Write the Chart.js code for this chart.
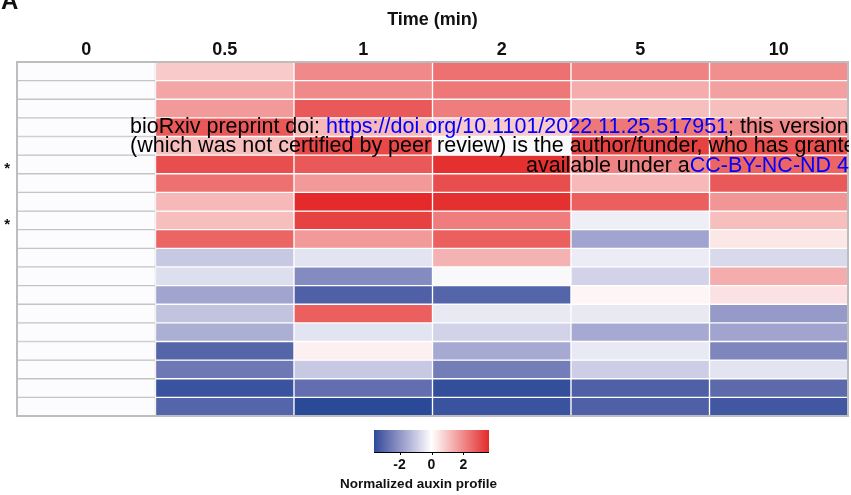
<!DOCTYPE html>
<html>
<head>
<meta charset="utf-8">
<script src="https://cdn.jsdelivr.net/npm/chart.js@4.4.0/dist/chart.umd.min.js"></script>
<style>
  body { margin: 0; background: #fff; }
  #wrap { width: 851px; height: 495px; }
</style>
</head>
<body>
<div id="wrap"><canvas id="myChart" width="851" height="495"></canvas></div>
<script>
// time points (columns)
var times = ['0', '0.5', '1', '2', '5', '10'];
// marks next to rows
var rowMarks = ['', '', '', '', '', '*', '', '', '*', '', '', '', '', '', '', '', '', '', ''];

// normalized auxin profile, one array per row (values at each time point)
var r01 = [-0.05, 0.9, 2.0, 2.4, 2.1, 1.9];
var r02 = [-0.05, 1.5, 2.0, 2.3, 1.4, 1.6];
var r03 = [-0.05, 1.7, 2.8, 2.2, 1.1, 1.1];
var r04 = [-0.05, 2.8, 1.2, 0.9, 2.3, 2.0];
var r05 = [-0.05, 1.1, 3.1, -0.1, 3.2, 3.0];
var r06 = [-0.05, 3.0, 2.8, 3.5, 2.1, 2.6];
var r07 = [-0.05, 2.4, 1.7, 3.0, 1.2, 2.8];
var r08 = [-0.05, 1.2, 3.6, 3.5, 2.7, 1.8];
var r09 = [-0.05, 1.1, 3.2, 2.2, -0.3, 1.1];
var r10 = [-0.05, 2.6, 1.7, 2.7, -1.7, 0.4];
var r11 = [-0.05, -1.0, -0.5, 1.3, -0.35, -0.7];
var r12 = [-0.05, -0.6, -2.2, -0.1, -0.8, 1.4];
var r13 = [-0.05, -1.7, -3.1, -3.0, 0.15, 0.5];
var r14 = [-0.05, -1.1, 2.7, -0.4, -0.4, -1.9];
var r15 = [-0.05, -1.5, -0.5, -0.8, -1.6, -1.7];
var r16 = [-0.05, -3.0, 0.25, -1.6, -0.4, -2.3];
var r17 = [-0.05, -2.6, -1.0, -2.5, -0.9, -0.5];
var r18 = [-0.05, -3.4, -2.8, -3.5, -3.1, -2.9];
var r19 = [-0.05, -3.0, -3.6, -3.4, -3.1, -3.3];
var rows = [r01, r02, r03, r04, r05, r06, r07, r08, r09, r10,
            r11, r12, r13, r14, r15, r16, r17, r18, r19];

// colour key
var legendTicks = [-2, 0, 2];
var legendMin = -3.6, legendMax = 3.6;

var FONT = "'Liberation Sans', Arial, sans-serif";
var blue = [42, 74, 152], white = [255, 255, 255], red = [228, 42, 42];

function toLab(c) {
  var v = c.map(function(x) { x = x / 255; return x > 0.04045 ? Math.pow((x + 0.055) / 1.055, 2.4) : x / 12.92; });
  var X = (v[0] * 0.4124 + v[1] * 0.3576 + v[2] * 0.1805) / 0.95047;
  var Y = v[0] * 0.2126 + v[1] * 0.7152 + v[2] * 0.0722;
  var Z = (v[0] * 0.0193 + v[1] * 0.1192 + v[2] * 0.9505) / 1.08883;
  var f = function(t) { return t > 0.008856 ? Math.cbrt(t) : 7.787 * t + 16 / 116; };
  X = f(X); Y = f(Y); Z = f(Z);
  return [116 * Y - 16, 500 * (X - Y), 200 * (Y - Z)];
}
function fromLab(l) {
  var y = (l[0] + 16) / 116, x = l[1] / 500 + y, z = y - l[2] / 200;
  var fi = function(t) { return t * t * t > 0.008856 ? t * t * t : (t - 16 / 116) / 7.787; };
  x = fi(x) * 0.95047; y = fi(y); z = fi(z) * 1.08883;
  var rgb = [x * 3.2406 - y * 1.5372 - z * 0.4986,
             -x * 0.9689 + y * 1.8758 + z * 0.0415,
             x * 0.0557 - y * 0.2040 + z * 1.0570];
  return rgb.map(function(v) {
    v = v > 0.0031308 ? 1.055 * Math.pow(v, 1 / 2.4) - 0.055 : 12.92 * v;
    return Math.round(Math.max(0, Math.min(1, v)) * 255);
  });
}
var labBlue = toLab(blue), labWhite = toLab(white);

// blue side blends in Lab (purplish mid tones), red side blends in rgb (pinkish)
function heatColor(v) {
  var c, t;
  if (v < 0) {
    t = Math.min(1, v / legendMin);
    c = fromLab([0, 1, 2].map(function(i) { return labWhite[i] + (labBlue[i] - labWhite[i]) * t; }));
  } else {
    t = Math.min(1, v / legendMax);
    c = [0, 1, 2].map(function(i) { return Math.round(white[i] + (red[i] - white[i]) * t); });
  }
  return 'rgb(' + c.join(',') + ')';
}

var datasets = rows.map(function(vals, r) {
  return {
    label: 'row ' + (r + 1),
    data: times.map(function() { return 1; }),
    backgroundColor: vals.map(heatColor),
    borderColor: times.map(function(t, i) { return i === 0 ? '#c4c4c4' : '#ffffff'; }),
    borderWidth: 1,
    borderSkipped: false,
    barPercentage: 1,
    categoryPercentage: 1
  };
});

var extras = {
  id: 'extras',
  afterDatasetsDraw: function(chart) {
    var ctx = chart.ctx, a = chart.chartArea;
    ctx.save();
    ctx.strokeStyle = '#bdbdbd';
    ctx.lineWidth = 2;
    ctx.strokeRect(a.left, a.top, a.right - a.left, a.bottom - a.top);
    ctx.restore();
  },
  afterDraw: function(chart) {
    var ctx = chart.ctx, a = chart.chartArea;
    ctx.save();
    // panel letter
    ctx.fillStyle = '#111';
    ctx.font = 'bold 24px ' + FONT;
    ctx.textBaseline = 'alphabetic';
    ctx.fillText('A', 1, 9);

    // colour key
    var w = 115, x0 = (a.left + a.right) / 2 - w / 2 - 1, y0 = 430, h = 22;
    var grad = ctx.createLinearGradient(x0, 0, x0 + w, 0);
    for (var i = 0; i <= 40; i++) {
      var v = legendMin + (legendMax - legendMin) * i / 40;
      grad.addColorStop(i / 40, heatColor(v));
    }
    ctx.fillStyle = grad;
    ctx.fillRect(x0, y0, w, h);
    ctx.strokeStyle = '#000';
    ctx.lineWidth = 1;
    ctx.beginPath();
    ctx.moveTo(x0, y0 + h + 0.5);
    ctx.lineTo(x0 + w, y0 + h + 0.5);
    ctx.stroke();
    ctx.font = 'bold 14px ' + FONT;
    ctx.textAlign = 'center';
    ctx.textBaseline = 'middle';
    ctx.fillStyle = '#111';
    legendTicks.forEach(function(t) {
      var x = x0 + (t - legendMin) / (legendMax - legendMin) * w;
      ctx.beginPath();
      ctx.moveTo(Math.round(x) + 0.5, y0 + h);
      ctx.lineTo(Math.round(x) + 0.5, y0 + h + 3);
      ctx.stroke();
      ctx.fillText(String(t), x, 465);
    });
    ctx.font = 'bold 13.5px ' + FONT;
    ctx.fillText('Normalized auxin profile', x0 + w / 2 - 13, 484);

    // preprint stamp
    ctx.beginPath();
    ctx.rect(0, 0, 849, 495);
    ctx.clip();
    ctx.font = '21.5px ' + FONT;
    ctx.textAlign = 'left';
    ctx.textBaseline = 'alphabetic';
    function segs(parts, x, y) {
      parts.forEach(function(p) {
        ctx.fillStyle = p[1] ? '#0000ff' : '#000';
        ctx.fillText(p[0], x, y);
        x += ctx.measureText(p[0]).width;
      });
    }
    segs([['bioRxiv preprint doi: ', 0], ['https://doi.org/10.1101/2022.11.25.517951', 1], ['; this version', 0]], 130, 133);
    segs([['(which was not certified by peer review) is the author/funder, who has granted bioRxiv a license', 0]], 130, 152);
    segs([['available under a', 0], ['CC-BY-NC-ND 4.0 International license', 1], ['.', 0]], 526, 172);
    ctx.restore();
  }
};

new Chart(document.getElementById('myChart'), {
  type: 'bar',
  data: { labels: times, datasets: datasets },
  options: {
    responsive: false,
    animation: false,
    layout: { padding: { left: 0, right: 3, top: 0, bottom: 79 } },
    plugins: { legend: { display: false }, tooltip: { enabled: false } },
    scales: {
      x: {
        type: 'category',
        position: 'top',
        stacked: true,
        grid: { display: false, drawTicks: false },
        border: { display: false },
        ticks: { color: '#111', padding: 1, font: { family: FONT, weight: 'bold', size: 18 } },
        title: { display: true, text: 'Time (min)', color: '#111', padding: { top: 9, bottom: 0 },
                 font: { family: FONT, weight: 'bold', size: 18 } },
        afterFit: function(s) { s.height = 62; }
      },
      y: { type: 'linear', stacked: true, reverse: true, min: 0, max: 19, display: false },
      y2: {
        type: 'category',
        labels: rowMarks,
        position: 'left',
        offset: true,
        grid: { display: false, drawTicks: false },
        border: { display: false },
        ticks: { autoSkip: false, color: '#111', padding: 7, labelOffset: 4,
                 font: { family: FONT, weight: 'bold', size: 15 } },
        afterFit: function(s) { s.width = 17; }
      }
    }
  },
  plugins: [extras]
});
</script>
</body>
</html>
